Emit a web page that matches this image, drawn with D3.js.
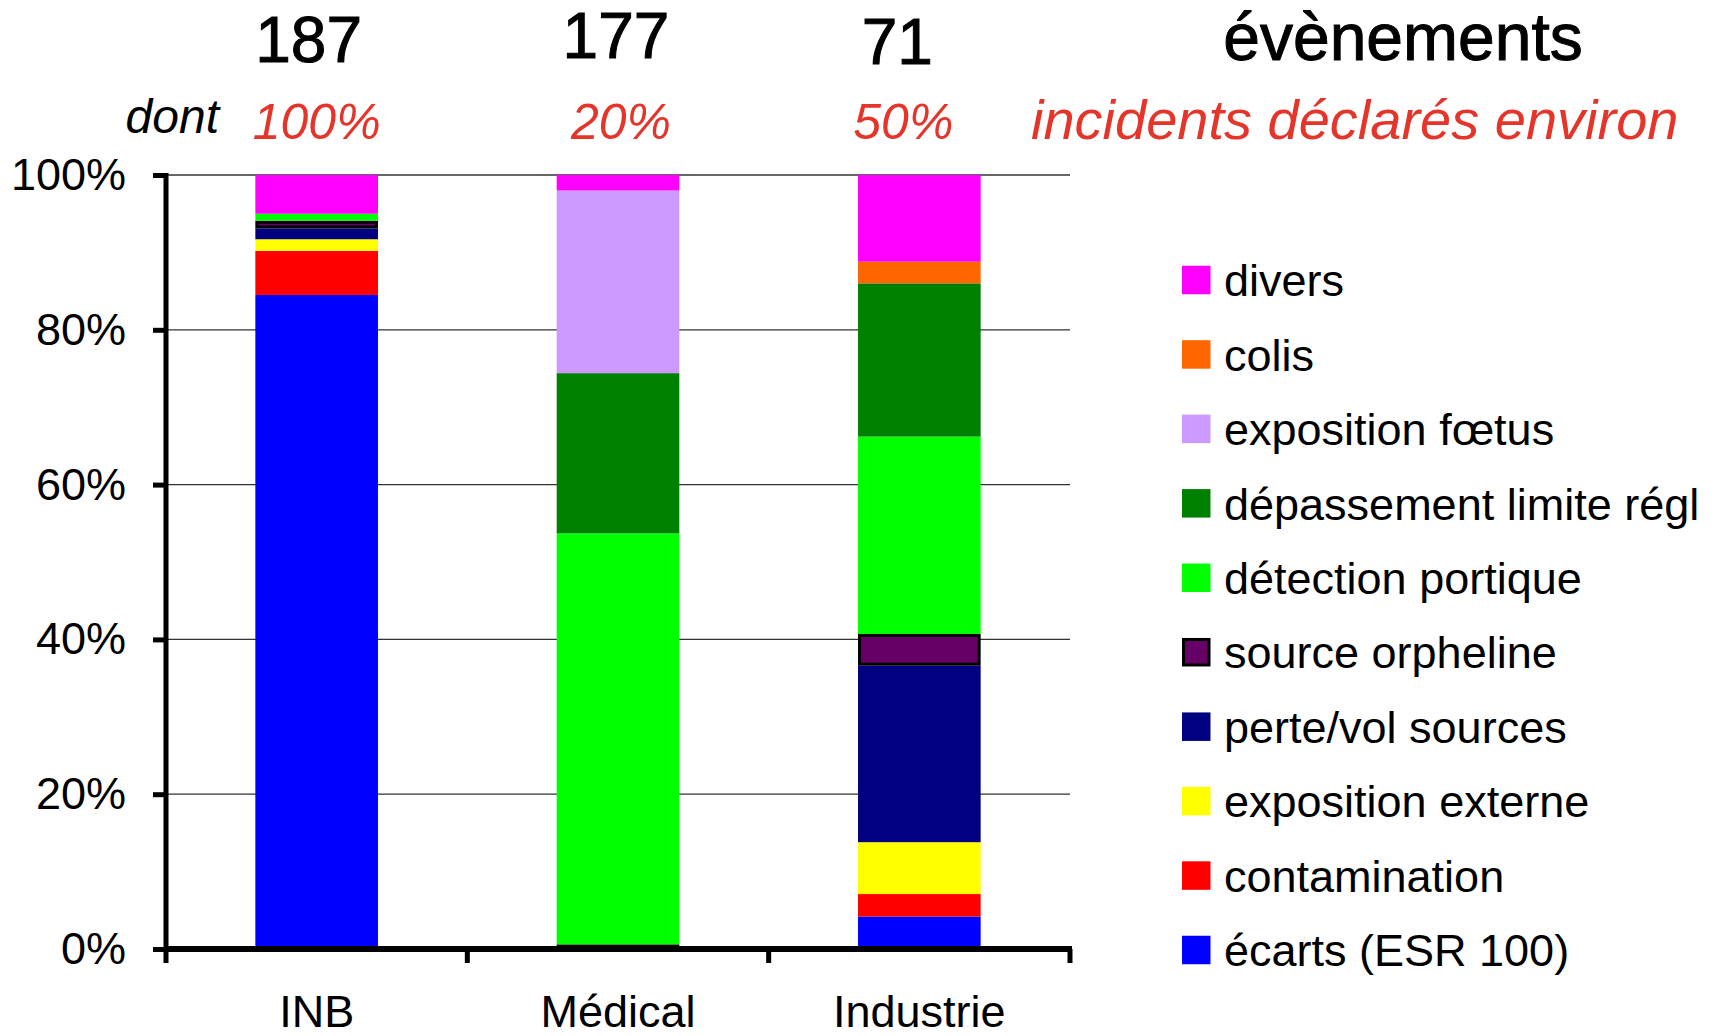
<!DOCTYPE html>
<html>
<head>
<meta charset="utf-8">
<script src="https://cdn.jsdelivr.net/npm/d3@7"></script>
<style>
  body { margin: 0; background: #fff; }
  svg { display: block; }
  text { font-family: "Liberation Sans", Arial, sans-serif; }
</style>
</head>
<body>
<svg id="chart" width="1716" height="1036"></svg>
<script>
// data
const categories = ['INB', 'Médical', 'Industrie'];
const totals = [187, 177, 71];
const declaredShares = ['100%', '20%', '50%'];

// series, bottom of the stack first
const seriesNames = [
  'écarts (ESR 100)', 'contamination', 'exposition externe', 'perte/vol sources',
  'source orpheline', 'détection portique', 'dépassement limite régl',
  'exposition fœtus', 'colis', 'divers'
];
const seriesColors = [
  '#0000ff', '#ff0000', '#ffff00', '#000080',
  '#660066', '#00ff00', '#008000',
  '#cc99ff', '#ff6600', '#ff00ff'
];

// % of events per category (INB, Médical, Industrie)
const ecarts = [84.5, 0, 4.2];
const contamination = [5.7, 0, 2.9];
const expositionExterne = [1.5, 0, 6.7];
const perteVol = [1.4, 0, 22.8];
const sourceOrpheline = [1.0, 0.6, 4.1];
const detectionPortique = [0.9, 53.1, 25.5];
const depassement = [0, 20.7, 19.8];
const expositionFoetus = [0, 23.6, 0];
const colis = [0, 0, 2.8];
const divers = [5.0, 2.0, 11.2];

const yTicks = [0, 20, 40, 60, 80, 100];

const seriesValues = [ecarts, contamination, expositionExterne, perteVol, sourceOrpheline,
  detectionPortique, depassement, expositionFoetus, colis, divers];

const rows = categories.map((c, i) => {
  const r = { category: c };
  seriesNames.forEach((n, j) => { r[n] = seriesValues[j][i]; });
  return r;
});

// layout
const svg = d3.select('#chart');
const x = d3.scaleBand().domain(categories).range([166, 1070]);
const y = d3.scaleLinear().domain([0, 100]).range([949, 175]);
const color = d3.scaleOrdinal(seriesNames, seriesColors);
const barW = x.bandwidth() * 0.407;
const red = '#e5352b';

// gridlines
svg.append('g')
  .selectAll('line')
  .data(yTicks.filter(d => d > 0))
  .join('line')
  .attr('x1', 166).attr('x2', 1070)
  .attr('y1', d => y(d)).attr('y2', d => y(d))
  .attr('stroke', '#333').attr('stroke-width', 1.3);

// stacked bars
const stacked = d3.stack().keys(seriesNames)(rows);
const layers = svg.append('g')
  .selectAll('g')
  .data(stacked)
  .join('g')
  .attr('fill', d => color(d.key));

layers.each(function (layer) {
  const orphan = layer.key === 'source orpheline';
  const inset = orphan ? 1.5 : 0;
  d3.select(this).selectAll('rect')
    .data(layer.filter(d => d[1] - d[0] > 0))
    .join('rect')
    .attr('x', d => x(d.data.category) + (x.bandwidth() - barW) / 2 + inset)
    .attr('width', barW - 2 * inset)
    .attr('y', d => y(d[1]) + inset)
    .attr('height', d => Math.max(0, y(d[0]) - y(d[1]) - 2 * inset))
    .attr('stroke', orphan ? '#000' : 'none')
    .attr('stroke-width', orphan ? 3 : 0);
});

// y axis
const yAxis = svg.append('g')
  .attr('transform', 'translate(166,0)')
  .call(d3.axisLeft(y).tickValues(yTicks).tickFormat(d => d + '%').tickSize(13).tickSizeOuter(0).tickPadding(27));
yAxis.select('.domain').remove();
yAxis.selectAll('.tick line').attr('stroke', '#000').attr('stroke-width', 5);
yAxis.selectAll('.tick text')
  .attr('font-size', 45).attr('fill', '#000')
  .style('font-family', '"Liberation Sans", Arial, sans-serif');
svg.append('line')
  .attr('x1', 166).attr('x2', 166)
  .attr('y1', y(100) - 2).attr('y2', y(0) + 14)
  .attr('stroke', '#000').attr('stroke-width', 5);

// x axis
svg.append('line')
  .attr('x1', 164).attr('x2', 1072)
  .attr('y1', y(0)).attr('y2', y(0))
  .attr('stroke', '#000').attr('stroke-width', 6);
svg.append('g')
  .selectAll('line')
  .data(categories)
  .join('line')
  .attr('x1', d => x(d) + x.bandwidth()).attr('x2', d => x(d) + x.bandwidth())
  .attr('y1', y(0)).attr('y2', y(0) + 14)
  .attr('stroke', '#000').attr('stroke-width', 5);

const xAxis = svg.append('g')
  .attr('transform', `translate(0,${y(0)})`)
  .call(d3.axisBottom(x).tickSize(0).tickPadding(46));
xAxis.select('.domain').remove();
xAxis.selectAll('.tick text')
  .attr('font-size', 45).attr('fill', '#000')
  .style('font-family', '"Liberation Sans", Arial, sans-serif');

// header: totals and declared shares
const headerOffsets = [{ dx: -8, y: 62 }, { dx: -2, y: 58 }, { dx: -22, y: 64 }];
const shareOffsets = [0, 3, -16];

svg.append('g')
  .selectAll('text')
  .data(categories)
  .join('text')
  .attr('x', (d, i) => x(d) + x.bandwidth() / 2 + headerOffsets[i].dx)
  .attr('y', (d, i) => headerOffsets[i].y)
  .attr('text-anchor', 'middle')
  .attr('font-size', 64)
  .attr('stroke', '#000').attr('stroke-width', 1)
  .text((d, i) => totals[i]);

svg.append('text')
  .attr('x', 1403).attr('y', 60)
  .attr('text-anchor', 'middle')
  .attr('font-size', 66)
  .attr('stroke', '#000').attr('stroke-width', 1)
  .text('évènements');

svg.append('text')
  .attr('x', 219).attr('y', 133)
  .attr('text-anchor', 'end')
  .attr('font-size', 48)
  .attr('font-style', 'italic')
  .text('dont');

svg.append('g')
  .selectAll('text')
  .data(categories)
  .join('text')
  .attr('x', (d, i) => x(d) + x.bandwidth() / 2 + shareOffsets[i])
  .attr('y', 139)
  .attr('text-anchor', 'middle')
  .attr('font-size', 50)
  .attr('font-style', 'italic')
  .attr('fill', red)
  .text((d, i) => declaredShares[i]);

svg.append('text')
  .attr('x', 1031).attr('y', 139)
  .attr('font-size', 56)
  .attr('font-style', 'italic')
  .attr('fill', red)
  .text('incidents déclarés environ');

// legend, top of the stack first
const legendNames = seriesNames.slice().reverse();
const ly = d3.scalePoint().domain(legendNames).range([280, 950]);
const legend = svg.append('g')
  .selectAll('g')
  .data(legendNames)
  .join('g')
  .attr('transform', d => `translate(1182,${ly(d)})`);

legend.append('rect')
  .attr('x', d => d === 'source orpheline' ? 1.5 : 0)
  .attr('y', d => d === 'source orpheline' ? -12.75 : -14.25)
  .attr('width', d => d === 'source orpheline' ? 25.5 : 28.5)
  .attr('height', d => d === 'source orpheline' ? 25.5 : 28.5)
  .attr('fill', d => color(d))
  .attr('stroke', d => d === 'source orpheline' ? '#000' : 'none')
  .attr('stroke-width', 3);

legend.append('text')
  .attr('x', 42)
  .attr('dy', '0.36em')
  .attr('font-size', 45)
  .text(d => d);
</script>
</body>
</html>
